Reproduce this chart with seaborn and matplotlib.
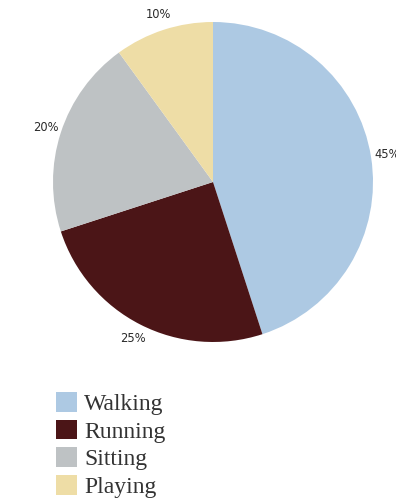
import matplotlib
matplotlib.use("Agg")
import matplotlib.pyplot as plt
from matplotlib.patches import Patch
import seaborn as sns

# Share of time spent per activity
activities = ["Walking", "Running", "Sitting", "Playing"]
shares = [45, 25, 20, 10]
colors = ["#adc9e3", "#4b1517", "#bec2c4", "#eedda6"]

sns.set_theme(style="white")
plt.rcParams["font.family"] = ["DejaVu Sans"]

W, H = 396, 501
fig = plt.figure(figsize=(W / 100, H / 100), dpi=100)
fig.patch.set_facecolor("white")

# pie area: centre (213, 182) px, radius 160 px
cx, cy, r = 213, 182, 160
ax = fig.add_axes([(cx - r) / W, (H - cy - r) / H, 2 * r / W, 2 * r / H])

wedges, texts, autotexts = ax.pie(
    shares,
    colors=colors,
    startangle=90,
    counterclock=False,
    autopct="%d%%",
    pctdistance=1.1,
    wedgeprops=dict(linewidth=0),
    textprops=dict(fontsize=8.3, color="#2a2a2a"),
)
ax.set_xlim(-1, 1)
ax.set_ylim(-1, 1)
ax.set_aspect("equal")
ax.axis("off")

handles = [Patch(facecolor=c, edgecolor="none") for c in colors]
fig.legend(
    handles,
    activities,
    loc="upper left",
    bbox_to_anchor=(56 / W, 1 - 392 / H),
    frameon=False,
    prop=dict(family="Liberation Serif", size=17),
    labelcolor="#333333",
    handlelength=0.9,
    handleheight=0.9,
    handletextpad=0.3,
    labelspacing=0.2,
    borderpad=0,
    borderaxespad=0,
)

fig.savefig("out.png", dpi=100, facecolor="white")
